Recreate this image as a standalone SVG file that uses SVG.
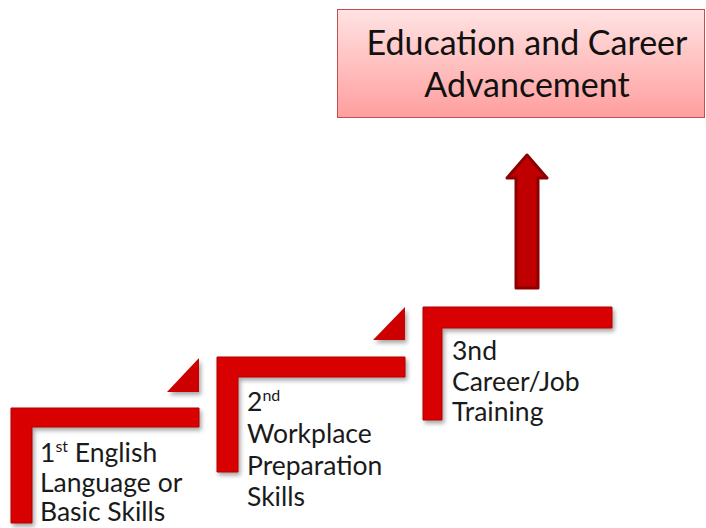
<svg xmlns="http://www.w3.org/2000/svg" width="706" height="528" viewBox="0 0 706 528">
<defs>
<linearGradient id="boxg" x1="0" y1="0" x2="0" y2="1">
<stop offset="0" stop-color="#ffe3e3"/>
<stop offset="1" stop-color="#ff9e9e"/>
</linearGradient>
<filter id="sh" x="-10%" y="-10%" width="130%" height="130%">
<feDropShadow dx="2" dy="3" stdDeviation="2" flood-color="#000" flood-opacity="0.35"/>
</filter>
</defs>
<style>
.step{fill:#d80000;stroke:#b00000;stroke-width:1;filter:url(#sh)}
.tri{fill:#cc0000;filter:url(#sh)}
.lbl{font-family:Lato,"Open Sans",sans-serif;font-size:26.5px;fill:#1a1a1a}
.sup{font-size:16px}
.ttl{font-family:Lato,"Open Sans",sans-serif;font-size:34px;fill:#111;text-anchor:middle}
</style>
<g id="goal">
<rect x="337.5" y="9.5" width="367" height="108" fill="url(#boxg)" stroke="#c0504d" stroke-width="1"/>
<text class="ttl" x="527" y="55">Education and Career</text>
<text class="ttl" x="527" y="97">Advancement</text>
</g>
<g id="step1">
<path class="step" d="M11 408 H199 V427 H32 V523 H11 Z"/>
<path class="tri" d="M167 392 H199 V358 Z"/>
<text class="lbl" x="40" y="462">1<tspan class="sup" dy="-10">st</tspan><tspan dy="10"> English</tspan></text>
<text class="lbl" x="40" y="492">Language or</text>
<text class="lbl" x="40" y="521">Basic Skills</text>
</g>
<g id="step2">
<path class="step" d="M217 357 H405 V377 H238 V472 H217 Z"/>
<path class="tri" d="M373 340 H405 V307 Z"/>
<text class="lbl" x="247" y="411">2<tspan class="sup" dy="-10">nd</tspan></text>
<text class="lbl" x="247" y="443">Workplace</text>
<text class="lbl" x="247" y="475">Preparation</text>
<text class="lbl" x="247" y="506">Skills</text>
</g>
<g id="step3">
<path class="step" d="M423 307 H612 V328 H442 V420 H423 Z"/>
<text class="lbl" x="452" y="360">3nd</text>
<text class="lbl" x="452" y="391">Career/Job</text>
<text class="lbl" x="452" y="421">Training</text>
</g>
<g id="connectors">
<path d="M516 288 V178 H507 L527 155 L547 178 H538 V288 Z" fill="#c00000" stroke="#8b0000" stroke-width="3" stroke-linejoin="round"/>
</g>
</svg>
